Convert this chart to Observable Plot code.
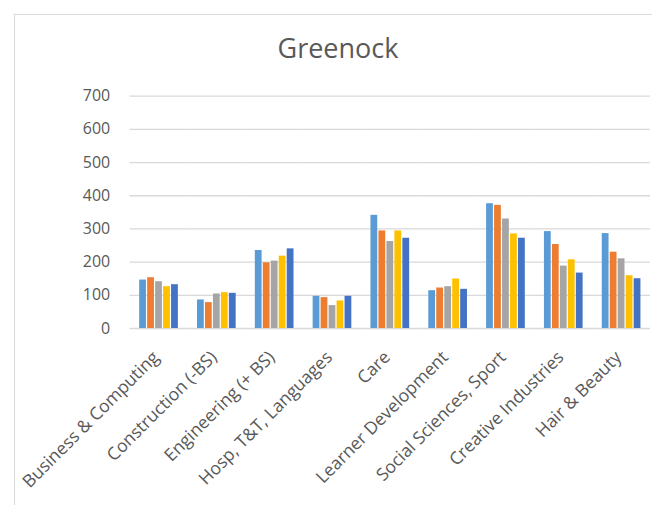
<!DOCTYPE html>
<html>
<head>
<meta charset="utf-8">
<script src="https://cdn.jsdelivr.net/npm/d3@7"></script>
<script src="https://cdn.jsdelivr.net/npm/@observablehq/plot@0.6"></script>
<style>
  html, body { margin: 0; padding: 0; background: #fff; overflow: hidden; }
  #wrap { position: relative; width: 652px; height: 505px; overflow: hidden; font-family: "Open Sans", sans-serif; }
  #frame { position: absolute; left: 14px; top: 14px; width: 800px; height: 700px; border: 1px solid #d9d9d9; box-sizing: border-box; pointer-events: none; }
  #title { position: absolute; left: 0; width: 676px; top: 34px; text-align: center; font-size: 27px; line-height: 1; color: #595959; }
  #chart { position: absolute; left: 0; top: 0; }
</style>
</head>
<body>
<div id="wrap">
  <div id="frame"></div>
  <div id="title">Greenock</div>
  <div id="chart"></div>
</div>
<script>
// Curriculum areas along the x axis
const categories = [
  "Business & Computing",
  "Construction (-BS)",
  "Engineering (+ BS)",
  "Hosp, T&T, Languages",
  "Care",
  "Learner Development",
  "Social Sciences, Sport",
  "Creative Industries",
  "Hair & Beauty"
];

// Five series, one value per curriculum area
const seriesNames = ["Series 1", "Series 2", "Series 3", "Series 4", "Series 5"];
const series1 = [146, 86, 235, 97, 341, 114, 376, 292, 286];
const series2 = [153, 78, 198, 93, 294, 122, 371, 253, 230];
const series3 = [141, 104, 203, 69, 262, 126, 330, 188, 210];
const series4 = [126, 108, 218, 83, 294, 149, 285, 207, 159];
const series5 = [132, 106, 240, 97, 272, 118, 272, 167, 150];

const yTicks = [0, 100, 200, 300, 400, 500, 600, 700];
const palette = ["#5B9BD5", "#ED7D31", "#A5A5A5", "#FFC000", "#4472C4"];

const seriesValues = [series1, series2, series3, series4, series5];
const rows = [];
categories.forEach((c, i) => {
  seriesNames.forEach((s, j) => {
    rows.push({category: c, series: s, value: seriesValues[j][i]});
  });
});

const textColor = "#595959";
const gridColor = "#d9d9d9";

const chart = Plot.plot({
  width: 654,
  height: 505,
  marginLeft: 128,
  marginRight: 0,
  marginTop: 96,
  marginBottom: 176,
  style: {fontFamily: "'Open Sans', sans-serif", color: textColor, background: "transparent", overflow: "visible"},
  fx: {domain: categories, padding: 0},
  x: {domain: seriesNames, padding: 0, insetLeft: 7.2, insetRight: 7.2},
  y: {domain: [0, 700]},
  color: {domain: seriesNames, range: palette},
  marks: [
    Plot.gridY(yTicks, {stroke: gridColor, strokeOpacity: 1, strokeWidth: 1.3}),
    Plot.barY(rows, {
      fx: "category",
      x: "series",
      y: "value",
      fill: "series",
      insetLeft: 0.6,
      insetRight: 0.6
    }),
    Plot.axisY(yTicks, {
      tickSize: 0,
      tickPadding: 20,
      fontSize: 16,
      label: null,
      fill: textColor
    }),
    Plot.axisFx({
      anchor: "bottom",
      tickSize: 0,
      tickPadding: 26,
      tickRotate: -45,
      fontSize: 17.6,
      dx: -3,
      label: null,
      fill: textColor
    }),
    Plot.axisX({ticks: [], label: null, tickSize: 0})
  ]
});

document.getElementById("chart").appendChild(chart);
</script>
</body>
</html>
